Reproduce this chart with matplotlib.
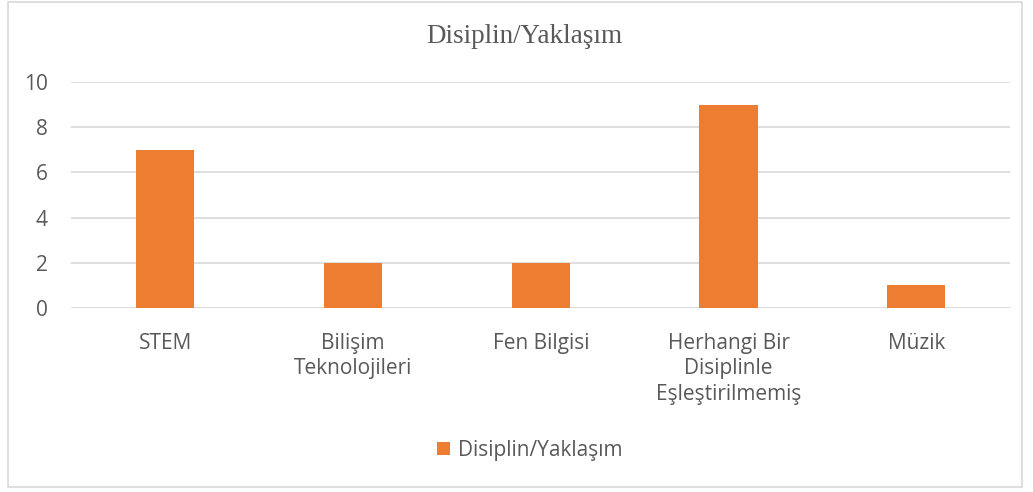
import matplotlib.pyplot as plt
from matplotlib.patches import Rectangle

categories = ["STEM", "Bilişim\nTeknolojileri", "Fen Bilgisi",
              "Herhangi Bir\nDisiplinle\nEşleştirilmemiş", "Müzik"]
values = [7, 2, 2, 9, 1]
series_name = "Disiplin/Yaklaşım"
yticks = [0, 2, 4, 6, 8, 10]

text_color = "#595959"
bar_color = "#ED7D31"
grid_color = "#D9D9D9"

plt.rcParams['font.family'] = ['Open Sans', 'DejaVu Sans']

fig = plt.figure(figsize=(10.33, 4.92), dpi=100)
ax = fig.add_axes([0.069, 0.374, 0.909, 0.459])

x = range(len(categories))
ax.bar(x, values, width=0.31, color=bar_color, label=series_name, zorder=3)

ax.set_xlim(-0.5, len(categories) - 0.5)
ax.set_ylim(0, 10)
ax.set_yticks(yticks)
ax.set_xticks(list(x))
ax.set_xticklabels(categories, fontsize=15, color=text_color, linespacing=1.28)
ax.tick_params(axis='y', labelsize=15, labelcolor=text_color, length=0, pad=17)
ax.tick_params(axis='x', length=0, pad=18)
ax.yaxis.grid(True, color=grid_color, linewidth=1.2, zorder=0)
for s in ax.spines.values():
    s.set_visible(False)
ax.axhline(0, color=grid_color, linewidth=1.2, zorder=1)

fig.text(0.508, 0.925, series_name, ha='center', va='center', fontsize=19.5,
         family='Liberation Serif', color=text_color)

leg = fig.legend(loc='center', bbox_to_anchor=(0.513, 0.085), frameon=False,
                 fontsize=15, handlelength=0.6, handleheight=0.6, handletextpad=0.4)
for t in leg.get_texts():
    t.set_color(text_color)

fig.patches.append(Rectangle((0.008, 0.01), 0.981, 0.985, transform=fig.transFigure,
                             fill=False, edgecolor=grid_color, linewidth=1.2))

fig.savefig("out.png", dpi=100)
